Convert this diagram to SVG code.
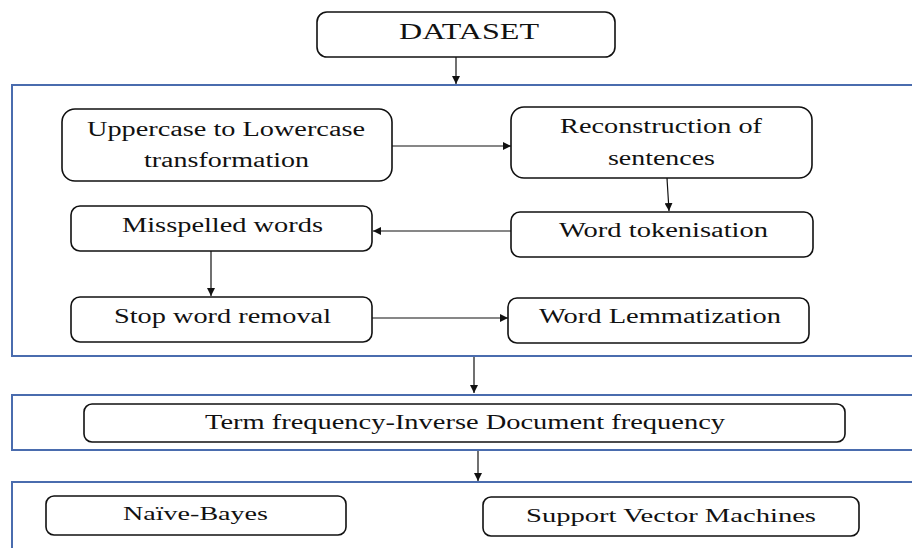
<svg xmlns="http://www.w3.org/2000/svg" width="912" height="548" viewBox="0 0 912 548">
<defs>
<style>
.cont{fill:none;stroke:#4a6cae;stroke-width:2}
.box{fill:#fff;stroke:#111;stroke-width:1.6}
.t{font-family:"Liberation Serif","Times New Roman",serif;fill:#111;font-size:20px}
.c{stroke:#111;stroke-width:1.2;fill:none;marker-end:url(#ah)}
</style>
<marker id="ah" viewBox="0 0 10 10" refX="10" refY="5" markerWidth="8" markerHeight="8" markerUnits="userSpaceOnUse" orient="auto">
<path d="M0,0 L10,5 L0,10 Z" fill="#111"/>
</marker>
</defs>
<rect width="912" height="548" fill="#fff"/>
<g id="containers">
<rect class="cont" x="12" y="85" width="910" height="271"/>
<rect class="cont" x="12" y="395" width="910" height="55"/>
<rect class="cont" x="12" y="482" width="910" height="80"/>
</g>
<g id="connectors">
<line class="c" x1="456" y1="57" x2="456" y2="84"/>
<line class="c" x1="392" y1="146" x2="511" y2="146"/>
<line class="c" x1="667" y1="178" x2="669" y2="211"/>
<line class="c" x1="511" y1="231" x2="373" y2="231"/>
<line class="c" x1="211" y1="251" x2="211" y2="296"/>
<line class="c" x1="372" y1="318" x2="508" y2="318"/>
<line class="c" x1="474" y1="357" x2="474" y2="393"/>
<line class="c" x1="478" y1="451" x2="478" y2="481"/>
</g>
<g id="dataset">
<rect class="box" x="317" y="12" width="298" height="45" rx="10"/>
<text class="t" x="399" y="39" style="font-size:23px" textLength="140" lengthAdjust="spacingAndGlyphs">DATASET</text>
</g>
<g id="uppercase">
<rect class="box" x="62" y="109" width="330" height="72" rx="13"/>
<text class="t" x="87" y="136" textLength="278" lengthAdjust="spacingAndGlyphs">Uppercase to Lowercase</text>
<text class="t" x="144" y="167" textLength="165" lengthAdjust="spacingAndGlyphs">transformation</text>
</g>
<g id="reconstruction">
<rect class="box" x="511" y="107" width="301" height="71" rx="13"/>
<text class="t" x="560" y="133" textLength="202" lengthAdjust="spacingAndGlyphs">Reconstruction of</text>
<text class="t" x="608" y="165" textLength="107" lengthAdjust="spacingAndGlyphs">sentences</text>
</g>
<g id="tokenisation">
<rect class="box" x="511" y="212" width="302" height="45" rx="9"/>
<text class="t" x="559" y="237" textLength="209" lengthAdjust="spacingAndGlyphs">Word tokenisation</text>
</g>
<g id="misspelled">
<rect class="box" x="71" y="206" width="301" height="45" rx="9"/>
<text class="t" x="122" y="232" textLength="201" lengthAdjust="spacingAndGlyphs">Misspelled words</text>
</g>
<g id="stopword">
<rect class="box" x="71" y="297" width="301" height="45" rx="9"/>
<text class="t" x="114" y="323" textLength="217" lengthAdjust="spacingAndGlyphs">Stop word removal</text>
</g>
<g id="lemmatization">
<rect class="box" x="508" y="298" width="301" height="45" rx="9"/>
<text class="t" x="539" y="323" textLength="242" lengthAdjust="spacingAndGlyphs">Word Lemmatization</text>
</g>
<g id="tfidf">
<rect class="box" x="84" y="404" width="761" height="38" rx="8"/>
<text class="t" x="205" y="429" style="font-size:20px" textLength="520" lengthAdjust="spacingAndGlyphs">Term frequency-Inverse Document frequency</text>
</g>
<g id="naivebayes">
<rect class="box" x="46" y="496" width="300" height="39" rx="8"/>
<text class="t" x="123" y="520" style="font-size:19px" textLength="145" lengthAdjust="spacingAndGlyphs">Naïve-Bayes</text>
</g>
<g id="svm">
<rect class="box" x="483" y="497" width="376" height="39" rx="8"/>
<text class="t" x="526" y="522" style="font-size:19px" textLength="290" lengthAdjust="spacingAndGlyphs">Support Vector Machines</text>
</g>
</svg>
